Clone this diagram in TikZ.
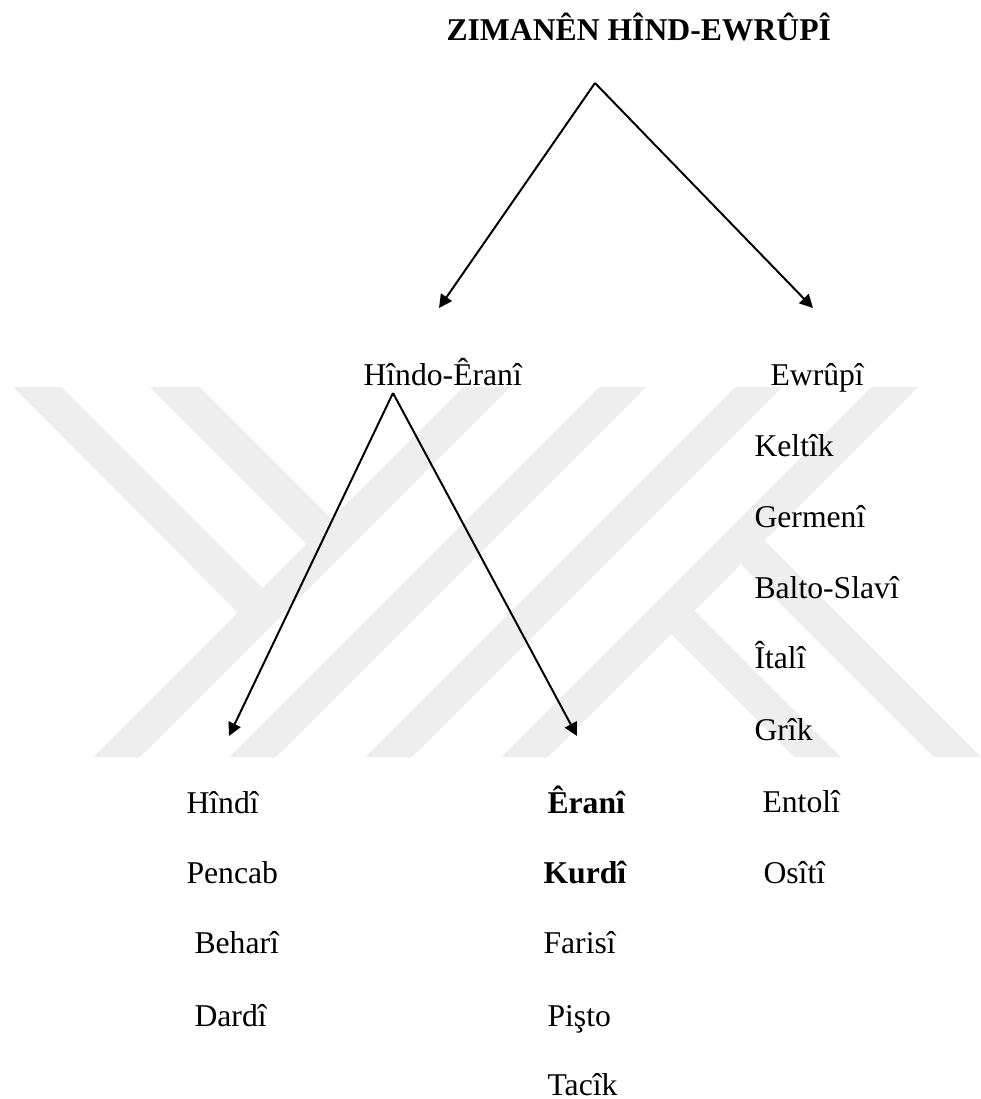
\documentclass[tikz,border=0pt]{standalone}
\usepackage{fontspec}
\setmainfont{Liberation Serif}
\usetikzlibrary{arrows.meta}
\definecolor{wmark}{RGB}{238,238,238}

\begin{document}
\begin{tikzpicture}[x=0.3788pt,y=-0.3788pt,>={Triangle[length=5pt,width=5pt]},
  lang/.style={anchor=base west,inner sep=0pt,font=\fontsize{12}{14}\selectfont},
  langb/.style={lang,font=\fontsize{12}{14}\selectfont\bfseries}]
\useasboundingbox (0,0) rectangle (981,1099);
% watermark
\fill[wmark] (93,757) -- (140,757) -- (510,387) -- (463,387) -- cycle;
\fill[wmark] (229,757) -- (276,757) -- (646,387) -- (599,387) -- cycle;
\fill[wmark] (365,757) -- (412,757) -- (782,387) -- (735,387) -- cycle;
\fill[wmark] (501,757) -- (548,757) -- (918,387) -- (871,387) -- cycle;
\fill[wmark] (13,387) -- (62,387) -- (275,600) -- (250,625) -- cycle;
\fill[wmark] (150,387) -- (200,387) -- (344,531) -- (319,556) -- cycle;
\fill[wmark] (657,620) -- (679,595) -- (841,757) -- (794,757) -- cycle;
\fill[wmark] (727,550) -- (749,525) -- (981,757) -- (934,757) -- cycle;
% tree
\node[langb] (title) at (446,40) {ZIMANÊN HÎND-EWRÛPÎ};
\node[lang] (hindoerani) at (363,385) {Hîndo-Êranî};
\node[lang] (ewrupi) at (770,385) {Ewrûpî};
\node[lang] (keltik) at (754,456) {Keltîk};
\node[lang] (germeni) at (754,527) {Germenî};
\node[lang] (baltoslavi) at (754,598) {Balto-Slavî};
\node[lang] (itali) at (754,668) {Îtalî};
\node[lang] (grik) at (754,740) {Grîk};
\node[lang] (entoli) at (762,812) {Entolî};
\node[lang] (ositi) at (763,883) {Osîtî};
\node[lang] (hindi) at (186,813) {Hîndî};
\node[lang] (pencab) at (186,883) {Pencab};
\node[lang] (behari) at (194,953) {Beharî};
\node[lang] (dardi) at (194,1026) {Dardî};
\node[langb] (erani) at (547,813) {Êranî};
\node[langb] (kurdi) at (543,883) {Kurdî};
\node[lang] (farisi) at (543,953) {Farisî};
\node[lang] (pisto) at (547,1026) {Pişto};
\node[lang] (tacik) at (547,1095) {Tacîk};
\coordinate (root) at (595,83);
\coordinate (hieTip) at (439,308);
\coordinate (ewTip) at (813,308);
\coordinate (hie) at (393,393);
\coordinate (hinTip) at (229,736);
\coordinate (eraTip) at (577,736);
\path[->,line width=0.75pt]
  (root) edge (hieTip)
  (root) edge (ewTip)
  (hie) edge (hinTip)
  (hie) edge (eraTip)
;
\end{tikzpicture}
\end{document}
